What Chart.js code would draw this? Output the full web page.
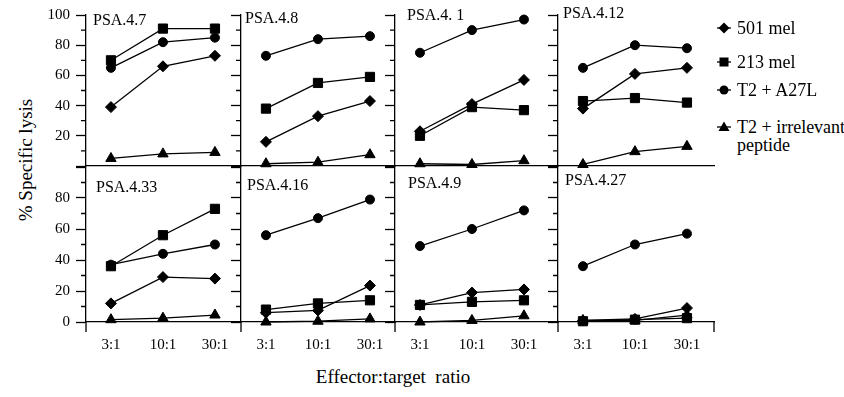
<!DOCTYPE html>
<html>
<head>
<meta charset="utf-8">
<script src="https://cdn.jsdelivr.net/npm/chart.js@4.4.1/dist/chart.umd.min.js"></script>
<style>
  body { margin: 0; background: #fff; }
  #wrap { position: relative; width: 844px; height: 397px; overflow: hidden; font-family: 'Liberation Serif', 'Times New Roman', serif; color: #000; }
  #wrap canvas { position: absolute; }
  .txt { position: absolute; white-space: pre; }
  .title { font-size: 16px; line-height: 20px; }
  .legend { font-size: 18px; line-height: 18px; }
  .axis-title { font-size: 19px; line-height: 22px; transform: translate(-50%, -50%); }
  .legend-mark { position: absolute; }
</style>
</head>
<body>
<div id="wrap"></div>
<script>
// values per panel, one row per panel, columns = ratios
const ratios = ['3:1', '10:1', '30:1'];
const panelNames = ['PSA.4.7', 'PSA.4.8', 'PSA.4. 1', 'PSA.4.12', 'PSA.4.33', 'PSA.4.16', 'PSA.4.9', 'PSA.4.27'];
const seriesNames = ['501 mel', '213 mel', 'T2 + A27L', 'T2 + irrelevant\npeptide'];

const mel501 = [
  [39, 66, 73], [16, 33, 43], [23, 41, 57], [38, 61, 65],
  [12, 29, 28], [6, 7.5, 23.5], [11, 19, 21], [1, 2, 9]
];
const mel213 = [
  [70, 91, 91], [38, 55, 59], [20, 39, 37], [43, 45, 42],
  [36, 56, 73], [8, 12, 14], [11, 13, 14], [0.5, 1.5, 2.5]
];
const t2A27L = [
  [65, 82, 85], [73, 84, 86], [75, 90, 97], [65, 80, 78],
  [37, 44, 50], [56, 67, 79], [49, 60, 72], [36, 50, 57]
];
const t2Irrelevant = [
  [5, 8, 9], [1.5, 2.5, 7.5], [1.5, 1, 3.5], [1, 9.5, 13],
  [1.5, 2.5, 4.5], [0, 0.5, 2], [0, 1, 4], [1, 1, 4.5]
];
const yMax = 100;
const yStep = 20;

const seriesData = [mel501, mel213, t2A27L, t2Irrelevant];
const marks = [
  { style: 'rectRot', r: 5.5 },
  { style: 'rect', r: 6.5 },
  { style: 'circle', r: 4.5 },
  { style: 'triangle', r: 6 }
];

// page layout
const FONT = "'Liberation Serif', 'Times New Roman', serif";
const colLeft = [86, 241, 395, 558];
const colRight = 714;
const AXIS_W = 40;
const UNIT = 52;
const rows = [
  { top: 0, padTop: 11, plotH: 156, xh: 14 },
  { top: 150, padTop: 17, plotH: 155, xh: 40 }
];
const titlePos = [[93, 20], [245, 18], [407, 15], [563, 13], [96, 187], [247, 185], [408, 183], [565, 180]];

const wrap = document.getElementById('wrap');

// minor ticks every 10 and the short axis stubs under the bottom row
const axisExtras = {
  id: 'axisExtras',
  afterDraw(chart, args, opts) {
    const { ctx, chartArea } = chart;
    const y = chart.scales.y;
    ctx.save();
    ctx.strokeStyle = '#000';
    ctx.lineWidth = 1.3;
    ctx.beginPath();
    for (let v = yStep / 2; v < yMax; v += yStep) {
      const py = y.getPixelForValue(v);
      ctx.moveTo(chartArea.left - 5, py);
      ctx.lineTo(chartArea.left, py);
    }
    if (opts.stub) {
      ctx.moveTo(chartArea.left, chartArea.bottom);
      ctx.lineTo(chartArea.left, chartArea.bottom + 10);
      if (opts.rightStub) {
        ctx.moveTo(chartArea.right, chartArea.bottom);
        ctx.lineTo(chartArea.right, chartArea.bottom + 10);
      }
    }
    ctx.stroke();
    ctx.restore();
  }
};

panelNames.forEach((name, p) => {
  const bottom = p >= 4;
  const row = rows[bottom ? 1 : 0];
  const col = p % 4;
  const left = colLeft[col];
  const w = (col < 3 ? colLeft[col + 1] : colRight) - left;

  const canvas = document.createElement('canvas');
  canvas.width = AXIS_W + w + 8;
  canvas.height = row.padTop + row.plotH + row.xh;
  canvas.style.left = (left - AXIS_W) + 'px';
  canvas.style.top = row.top + 'px';
  wrap.appendChild(canvas);

  new Chart(canvas, {
    type: 'line',
    data: {
      datasets: seriesData.map((data, s) => ({
        label: seriesNames[s],
        data: data[p].map((v, i) => ({ x: i, y: v })),
        borderColor: '#000',
        backgroundColor: '#000',
        borderWidth: 1.3,
        tension: 0,
        pointStyle: marks[s].style,
        pointRadius: marks[s].r,
        pointBorderWidth: 1,
        pointBackgroundColor: '#000',
        pointBorderColor: '#000',
        clip: false
      }))
    },
    options: {
      responsive: false,
      animation: false,
      layout: { padding: { top: row.padTop, right: 8, left: 0, bottom: 0 } },
      plugins: {
        legend: { display: false },
        tooltip: { enabled: false },
        axisExtras: { stub: bottom, rightStub: bottom && col === 3 }
      },
      scales: {
        x: {
          type: 'linear',
          min: -0.48,
          max: -0.48 + w / UNIT,
          afterBuildTicks: s => { s.ticks = ratios.map((_, i) => ({ value: i })); },
          afterFit: s => { s.height = row.xh; },
          grid: { drawOnChartArea: false, drawTicks: false },
          border: { color: '#000', width: 1.3 },
          ticks: {
            display: bottom,
            color: '#000',
            font: { family: FONT, size: 15 },
            padding: 14,
            maxRotation: 0,
            autoSkip: false,
            callback: v => ratios[v]
          }
        },
        y: {
          min: 0,
          max: yMax,
          afterFit: s => { s.width = AXIS_W; },
          grid: { drawOnChartArea: false, tickLength: 10, tickColor: '#000', tickWidth: 1.3 },
          border: { color: '#000', width: 1.3 },
          ticks: {
            stepSize: yStep,
            color: col === 0 ? '#000' : 'rgba(0,0,0,0)',
            font: { family: FONT, size: 15 },
            padding: 6,
            callback: v => ((bottom ? v === yMax : v === 0) ? '' : v)
          }
        }
      }
    },
    plugins: [axisExtras]
  });

  const t = document.createElement('div');
  t.className = 'txt title';
  t.textContent = name;
  t.style.left = titlePos[p][0] + 'px';
  t.style.top = (titlePos[p][1] - 10) + 'px';
  wrap.appendChild(t);
});

// legend
const legendY = [28, 62, 90, 127];
const markSvg = [
  '<polygon points="7,1.5 12.5,7 7,12.5 1.5,7"/>',
  '<rect x="2.5" y="2.5" width="9" height="9"/>',
  '<circle cx="7" cy="7" r="4.5"/>',
  '<polygon points="7,1.5 12.5,11 1.5,11"/>'
];
seriesNames.forEach((name, s) => {
  const m = document.createElement('div');
  m.className = 'legend-mark';
  m.style.left = '717px';
  m.style.top = (legendY[s] - 7) + 'px';
  m.innerHTML = '<svg width="14" height="14"><line x1="0" y1="7" x2="14" y2="7" stroke="#000" stroke-width="1.3"/>' +
    '<g fill="#000">' + markSvg[s] + '</g></svg>';
  wrap.appendChild(m);
  const t = document.createElement('div');
  t.className = 'txt legend';
  t.textContent = name;
  t.style.left = '737px';
  t.style.top = (legendY[s] - 9) + 'px';
  wrap.appendChild(t);
});

// axis titles
const yTitle = document.createElement('div');
yTitle.className = 'txt axis-title';
yTitle.textContent = '% Specific lysis';
yTitle.style.left = '26px';
yTitle.style.top = '160px';
yTitle.style.transform = 'translate(-50%, -50%) rotate(-90deg)';
wrap.appendChild(yTitle);

const xTitle = document.createElement('div');
xTitle.className = 'txt axis-title';
xTitle.textContent = 'Effector:target  ratio';
xTitle.style.left = '393px';
xTitle.style.top = '377px';
wrap.appendChild(xTitle);
</script>
</body>
</html>
